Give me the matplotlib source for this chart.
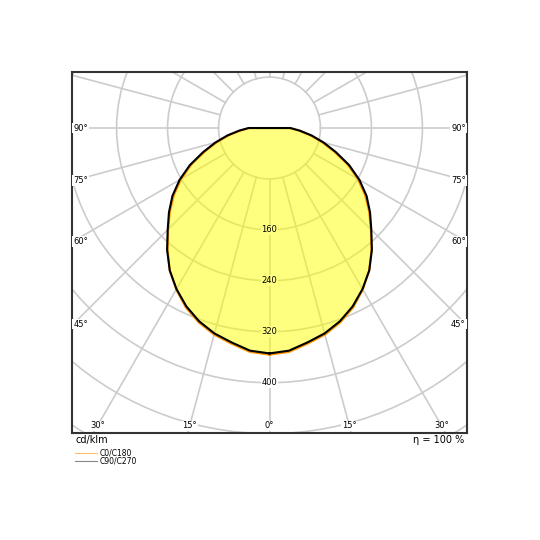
import numpy as np
import matplotlib.pyplot as plt
from matplotlib.patches import Circle
from matplotlib.lines import Line2D

# luminous intensity (cd/klm) vs gamma angle
gamma = [0, 5, 10, 15, 20, 25, 30, 35, 40, 45, 50, 55, 60, 65, 70, 75, 80, 85, 90, 95]
c0_c180 = [356, 353, 344, 336, 325, 311, 293, 273, 249, 225, 204, 183, 160, 135, 108, 85, 64, 46, 31, 0]
c90_c270 = [354, 351, 342, 334, 323, 309, 292, 273, 250, 226, 206, 186, 163, 138, 111, 88, 67, 48, 33, 0]

rings = [80, 160, 240, 320, 400, 480, 560, 640]
ring_labels = [160, 240, 320, 400]
spokes = list(range(0, 360, 15))
side_labels = [45, 60, 75, 90]
bottom_labels = [0, 15, 30]


def outline(values):
    g = np.radians(gamma)
    v = np.array(values, dtype=float)
    xr, yr = v * np.sin(g), -v * np.cos(g)
    # left half is the mirror image, walked back down to gamma 0
    x = np.concatenate([xr, -xr[::-1]])
    y = np.concatenate([yr, yr[::-1]])
    return x, y


fig = plt.figure(figsize=(5.4, 5.4), dpi=100)
ax = fig.add_axes([72/540, 107/540, 395/540, 361/540])
xmin, xmax, ymin, ymax = -310, 310, -479, 88
ax.set_xlim(xmin, xmax)
ax.set_ylim(ymin, ymax)
ax.set_xticks([])
ax.set_yticks([])
for s in ax.spines.values():
    s.set_color('#333333')
    s.set_linewidth(1.5)

grid_col = '#cccccc'
for r in rings:
    ax.add_patch(Circle((0, 0), r, fill=False, ec=grid_col, lw=1.2, zorder=1))
for a in spokes:
    t = np.radians(a)
    ax.plot([80*np.sin(t), 900*np.sin(t)], [-80*np.cos(t), -900*np.cos(t)],
            color=grid_col, lw=1.2, zorder=1)

# envelope fill
env = np.maximum(c0_c180, c90_c270)
ex, ey = outline(env)
ax.fill(ex, ey, color='#ffff00', alpha=0.5, lw=0, zorder=2)

x0, y0 = outline(c0_c180)
ax.plot(x0, y0, color='#ff9900', lw=1.5, zorder=3)
x9, y9 = outline(c90_c270)
ax.plot(x9, y9, color='black', lw=1.5, zorder=4)

for v in ring_labels:
    bg = '#ffff80' if v < env[0] else 'white'
    ax.text(0, -v, str(v), ha='center', va='center', fontsize=6, zorder=5,
            bbox=dict(boxstyle='square,pad=0.1', fc=bg, ec='none'))

lab_kw = dict(fontsize=6, va='center', zorder=5,
              bbox=dict(boxstyle='square,pad=0.1', fc='white', ec='none'))
yb = -468
for a in bottom_labels:
    xb = -yb * np.tan(np.radians(a))
    ax.text(xb, yb, f'{a}°', ha='center', **lab_kw)
    if a:
        ax.text(-xb, yb, f'{a}°', ha='center', **lab_kw)
for a in side_labels:
    ys = -(xmax - 2) / np.tan(np.radians(a)) if a < 90 else 0
    ax.text(xmin + 2, ys, f'{a}°', ha='left', **lab_kw)
    ax.text(xmax - 2, ys, f'{a}°', ha='right', **lab_kw)

fig.text(76/540, 1 - 440/540, 'cd/klm', fontsize=7, va='center', ha='left')
fig.text(464/540, 1 - 440/540, 'η = 100 %', fontsize=7, va='center', ha='right')

fig.add_artist(Line2D([75/540, 97/540], [1 - 453/540]*2, color='#ffc266', lw=0.8))
fig.add_artist(Line2D([75/540, 97/540], [1 - 461/540]*2, color='#888888', lw=0.8))
fig.text(100/540, 1 - 453/540, 'C0/C180', fontsize=5.5, va='center', ha='left')
fig.text(100/540, 1 - 461/540, 'C90/C270', fontsize=5.5, va='center', ha='left')

fig.savefig('out.png', dpi=100)
